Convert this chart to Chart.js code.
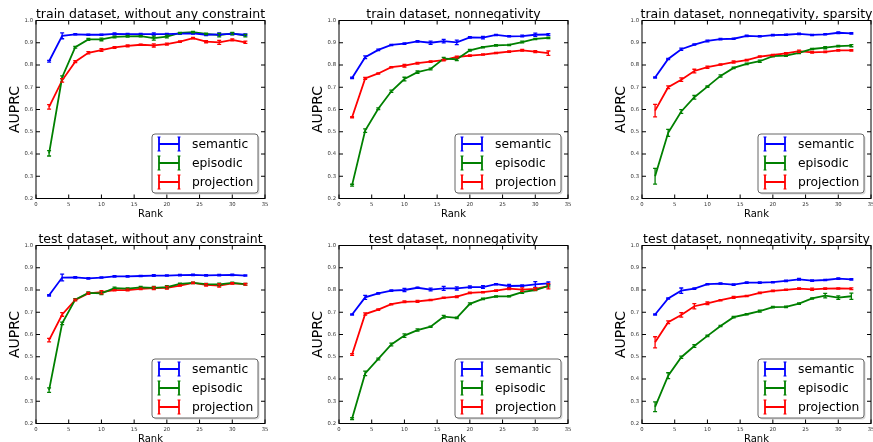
<!DOCTYPE html>
<html><head><meta charset="utf-8">
<script src="https://cdn.jsdelivr.net/npm/chart.js@4"></script>
<style>
html,body{margin:0;padding:0;background:#fff;overflow:hidden;width:873px;height:442px;position:relative}
.p{position:absolute;width:303px;height:225px}
</style></head><body>
<script>
const ranks = [2,4,6,8,10,12,14,16,18,20,22,24,26,28,30,32];
const seriesNames = ['semantic','episodic','projection'];
const seriesColors = ['#0000ff','#008000','#ff0000'];
const xTicks = [0,5,10,15,20,25,30,35];
const yTicks = [0.2,0.3,0.4,0.5,0.6,0.7,0.8,0.9,1.0];
const titles = ['train dataset, without any constraint','train dataset, nonnegativity','train dataset, nonnegativity, sparsity',
                'test dataset, without any constraint','test dataset, nonnegativity','test dataset, nonnegativity, sparsity'];

// train, without any constraint
const trainNoneSemantic   = [0.817,0.931,0.938,0.936,0.936,0.940,0.939,0.939,0.939,0.939,0.941,0.942,0.936,0.938,0.940,0.936];
const trainNoneSemanticErr= [0.004,0.013,0.003,0.003,0.003,0.004,0.003,0.003,0.005,0.003,0.003,0.003,0.004,0.006,0.004,0.004];
const trainNoneEpisodic   = [0.403,0.745,0.880,0.915,0.915,0.926,0.929,0.930,0.921,0.928,0.944,0.948,0.940,0.934,0.942,0.932];
const trainNoneEpisodicErr= [0.012,0.006,0.004,0.004,0.006,0.004,0.004,0.003,0.009,0.006,0.003,0.003,0.003,0.008,0.005,0.006];
const trainNoneProjection = [0.612,0.731,0.815,0.855,0.867,0.879,0.886,0.891,0.888,0.894,0.905,0.921,0.905,0.902,0.913,0.902];
const trainNoneProjectionErr=[0.010,0.008,0.004,0.005,0.006,0.004,0.004,0.003,0.007,0.004,0.003,0.003,0.005,0.009,0.004,0.005];
// train, nonnegativity
const trainNonnegSemantic   = [0.742,0.835,0.868,0.890,0.896,0.906,0.900,0.907,0.902,0.924,0.923,0.935,0.929,0.930,0.936,0.937];
const trainNonnegSemanticErr= [0.003,0.006,0.003,0.003,0.003,0.003,0.007,0.008,0.010,0.003,0.006,0.003,0.003,0.004,0.007,0.004];
const trainNonnegEpisodic   = [0.260,0.505,0.603,0.682,0.737,0.768,0.782,0.829,0.826,0.866,0.880,0.888,0.890,0.903,0.917,0.922];
const trainNonnegEpisodicErr= [0.004,0.008,0.004,0.005,0.008,0.005,0.004,0.005,0.006,0.004,0.003,0.003,0.003,0.004,0.003,0.003];
const trainNonnegProjection = [0.565,0.740,0.762,0.790,0.797,0.808,0.815,0.822,0.836,0.842,0.847,0.854,0.860,0.866,0.860,0.853];
const trainNonnegProjectionErr=[0.003,0.004,0.003,0.003,0.006,0.004,0.003,0.003,0.004,0.003,0.003,0.003,0.003,0.004,0.004,0.010];
// train, nonnegativity, sparsity
const trainSparseSemantic   = [0.744,0.827,0.871,0.892,0.908,0.916,0.918,0.931,0.929,0.934,0.936,0.940,0.935,0.938,0.945,0.942];
const trainSparseSemanticErr= [0.003,0.003,0.005,0.003,0.004,0.003,0.003,0.003,0.003,0.003,0.003,0.003,0.003,0.003,0.004,0.003];
const trainSparseEpisodic   = [0.300,0.495,0.591,0.655,0.703,0.751,0.787,0.805,0.817,0.840,0.842,0.855,0.872,0.878,0.885,0.887];
const trainSparseEpisodicErr= [0.035,0.016,0.008,0.008,0.003,0.005,0.003,0.003,0.005,0.003,0.003,0.004,0.003,0.005,0.003,0.005];
const trainSparseProjection = [0.595,0.700,0.734,0.773,0.790,0.802,0.813,0.822,0.838,0.845,0.852,0.862,0.857,0.859,0.866,0.866];
const trainSparseProjectionErr=[0.028,0.006,0.008,0.008,0.005,0.003,0.005,0.003,0.003,0.003,0.003,0.005,0.004,0.003,0.003,0.003];
// test, without any constraint
const testNoneSemantic   = [0.776,0.856,0.857,0.852,0.856,0.861,0.861,0.863,0.865,0.865,0.867,0.868,0.866,0.867,0.868,0.865];
const testNoneSemanticErr= [0.003,0.015,0.003,0.003,0.003,0.003,0.003,0.003,0.004,0.003,0.003,0.003,0.003,0.003,0.003,0.003];
const testNoneEpisodic   = [0.350,0.650,0.757,0.787,0.785,0.808,0.806,0.812,0.810,0.813,0.828,0.832,0.826,0.825,0.832,0.826];
const testNoneEpisodicErr= [0.010,0.006,0.004,0.004,0.006,0.005,0.004,0.004,0.006,0.007,0.003,0.003,0.004,0.006,0.003,0.004];
const testNoneProjection = [0.575,0.690,0.755,0.785,0.790,0.799,0.800,0.805,0.808,0.810,0.820,0.832,0.823,0.820,0.830,0.826];
const testNoneProjectionErr=[0.008,0.008,0.004,0.004,0.007,0.003,0.004,0.003,0.006,0.006,0.003,0.003,0.005,0.007,0.003,0.004];
// test, nonnegativity
const testNonnegSemantic   = [0.690,0.767,0.785,0.797,0.800,0.810,0.802,0.807,0.807,0.813,0.813,0.826,0.818,0.819,0.825,0.830];
const testNonnegSemanticErr= [0.003,0.009,0.003,0.003,0.007,0.003,0.006,0.009,0.007,0.005,0.006,0.003,0.007,0.004,0.013,0.006];
const testNonnegEpisodic   = [0.222,0.425,0.490,0.555,0.595,0.620,0.635,0.680,0.675,0.738,0.760,0.771,0.772,0.790,0.800,0.818];
const testNonnegEpisodicErr= [0.004,0.010,0.004,0.006,0.008,0.005,0.003,0.006,0.003,0.004,0.003,0.003,0.003,0.005,0.003,0.004];
const testNonnegProjection = [0.510,0.692,0.712,0.736,0.747,0.749,0.755,0.765,0.770,0.787,0.790,0.797,0.806,0.802,0.805,0.817];
const testNonnegProjectionErr=[0.004,0.005,0.003,0.003,0.004,0.004,0.003,0.003,0.004,0.003,0.003,0.003,0.004,0.008,0.006,0.012];
// test, nonnegativity, sparsity
const testSparseSemantic   = [0.690,0.762,0.797,0.806,0.826,0.829,0.824,0.833,0.833,0.835,0.841,0.848,0.842,0.845,0.851,0.848];
const testSparseSemanticErr= [0.003,0.003,0.012,0.003,0.003,0.003,0.003,0.003,0.003,0.003,0.003,0.004,0.003,0.003,0.003,0.003];
const testSparseEpisodic   = [0.275,0.415,0.498,0.548,0.594,0.638,0.678,0.691,0.705,0.723,0.724,0.739,0.762,0.775,0.766,0.772];
const testSparseEpisodicErr= [0.022,0.013,0.005,0.006,0.003,0.003,0.003,0.003,0.004,0.003,0.003,0.003,0.003,0.010,0.008,0.014];
const testSparseProjection = [0.565,0.655,0.688,0.727,0.740,0.754,0.767,0.773,0.787,0.796,0.801,0.806,0.803,0.806,0.807,0.806];
const testSparseProjectionErr=[0.025,0.006,0.010,0.012,0.006,0.003,0.004,0.003,0.003,0.003,0.003,0.003,0.005,0.003,0.003,0.004];

const panels = [
  {vals:[trainNoneSemantic,trainNoneEpisodic,trainNoneProjection], errs:[trainNoneSemanticErr,trainNoneEpisodicErr,trainNoneProjectionErr]},
  {vals:[trainNonnegSemantic,trainNonnegEpisodic,trainNonnegProjection], errs:[trainNonnegSemanticErr,trainNonnegEpisodicErr,trainNonnegProjectionErr]},
  {vals:[trainSparseSemantic,trainSparseEpisodic,trainSparseProjection], errs:[trainSparseSemanticErr,trainSparseEpisodicErr,trainSparseProjectionErr]},
  {vals:[testNoneSemantic,testNoneEpisodic,testNoneProjection], errs:[testNoneSemanticErr,testNoneEpisodicErr,testNoneProjectionErr]},
  {vals:[testNonnegSemantic,testNonnegEpisodic,testNonnegProjection], errs:[testNonnegSemanticErr,testNonnegEpisodicErr,testNonnegProjectionErr]},
  {vals:[testSparseSemantic,testSparseEpisodic,testSparseProjection], errs:[testSparseSemanticErr,testSparseEpisodicErr,testSparseProjectionErr]}
];

const FONT = 'DejaVu Sans';

function makePlugin(panel, title){
  return {
    id:'decor',
    afterDatasetsDraw(chart){
      const ctx = chart.ctx, ca = chart.chartArea;
      const xs = chart.scales.x, ys = chart.scales.y;
      ctx.save();
      // error bars
      panel.vals.forEach((vals,i)=>{
        ctx.strokeStyle = seriesColors[i];
        ctx.lineWidth = 1.3;
        vals.forEach((v,k)=>{
          const e = panel.errs[i][k];
          const px = xs.getPixelForValue(ranks[k]);
          const y1 = ys.getPixelForValue(v - e), y2 = ys.getPixelForValue(v + e);
          ctx.beginPath();
          ctx.moveTo(px, y1); ctx.lineTo(px, y2);
          ctx.moveTo(px-2, y1); ctx.lineTo(px+2, y1);
          ctx.moveTo(px-2, y2); ctx.lineTo(px+2, y2);
          ctx.stroke();
        });
      });
      // frame
      ctx.strokeStyle = '#000'; ctx.lineWidth = 1;
      ctx.strokeRect(ca.left, ca.top, ca.right-ca.left, ca.bottom-ca.top);
      // inward ticks on all sides
      ctx.beginPath();
      xTicks.forEach(t=>{
        const px = xs.getPixelForValue(t);
        ctx.moveTo(px, ca.bottom); ctx.lineTo(px, ca.bottom-4);
        ctx.moveTo(px, ca.top); ctx.lineTo(px, ca.top+4);
      });
      yTicks.forEach(t=>{
        const py = ys.getPixelForValue(t);
        ctx.moveTo(ca.left, py); ctx.lineTo(ca.left+4, py);
        ctx.moveTo(ca.right, py); ctx.lineTo(ca.right-4, py);
      });
      ctx.stroke();
      // legend
      const lw = 106, lh = 59;
      const lx = ca.right - 7 - lw, ly = ca.bottom - 5.5 - lh;
      ctx.fillStyle = 'rgba(0,0,0,0.15)';
      ctx.beginPath(); ctx.roundRect(lx+1.5, ly+1.5, lw, lh, 3); ctx.fill();
      ctx.fillStyle = '#fff'; ctx.strokeStyle = '#666'; ctx.lineWidth = 1;
      ctx.beginPath(); ctx.roundRect(lx, ly, lw, lh, 3); ctx.fill(); ctx.stroke();
      seriesNames.forEach((n,i)=>{
        const cy = ly + 10 + i*19;
        const x0 = lx + 7, x1 = lx + 27;
        ctx.strokeStyle = seriesColors[i]; ctx.lineWidth = 1.8;
        ctx.beginPath();
        ctx.moveTo(x0, cy); ctx.lineTo(x1, cy);
        ctx.moveTo(x0, cy-7); ctx.lineTo(x0, cy+7);
        ctx.moveTo(x1, cy-7); ctx.lineTo(x1, cy+7);
        ctx.stroke();
        ctx.lineWidth = 1.2;
        ctx.beginPath();
        ctx.moveTo(x0-1.5, cy-7); ctx.lineTo(x0+1.5, cy-7);
        ctx.moveTo(x0-1.5, cy+7); ctx.lineTo(x0+1.5, cy+7);
        ctx.moveTo(x1-1.5, cy-7); ctx.lineTo(x1+1.5, cy-7);
        ctx.moveTo(x1-1.5, cy+7); ctx.lineTo(x1+1.5, cy+7);
        ctx.stroke();
        ctx.fillStyle = '#000';
        ctx.font = '12.3px "' + FONT + '"';
        ctx.textAlign = 'left'; ctx.textBaseline = 'middle';
        ctx.fillText(n, lx + 40, cy + 0.5);
      });
      // title
      const cx = (ca.left + ca.right)/2;
      ctx.fillStyle = '#000';
      ctx.font = '12.5px "' + FONT + '"';
      ctx.textAlign = 'center'; ctx.textBaseline = 'alphabetic';
      ctx.fillText(title, cx, ca.top - 3);
      // x label
      ctx.font = '10px "' + FONT + '"';
      ctx.fillText('Rank', cx, ca.bottom + 18);
      // y label
      ctx.save();
      ctx.translate(ca.left - 21, (ca.top + ca.bottom)/2);
      ctx.rotate(-Math.PI/2);
      ctx.font = '14px "' + FONT + '"';
      ctx.textAlign = 'center'; ctx.textBaseline = 'middle';
      ctx.fillText('AUPRC', 0, 0);
      ctx.restore();
      ctx.restore();
    }
  };
}

panels.forEach((panel, idx)=>{
  const r = Math.floor(idx/3), c = idx % 3;
  const div = document.createElement('div');
  div.className = 'p';
  div.style.left = (c*303) + 'px';
  div.style.top = (r*225) + 'px';
  const cv = document.createElement('canvas');
  cv.width = 303; cv.height = 225;
  cv.style.width = '303px'; cv.style.height = '225px';
  div.appendChild(cv);
  document.body.appendChild(div);
  const tickFont = {family: FONT, size: 5.3};
  new Chart(cv, {
    type:'line',
    data:{
      datasets: seriesNames.map((n,i)=>({
        label:n,
        data: ranks.map((x,k)=>({x:x, y:panel.vals[i][k]})),
        borderColor: seriesColors[i], backgroundColor: seriesColors[i],
        borderWidth: 1.8, pointRadius: 0, tension: 0, fill: false
      }))
    },
    options:{
      responsive:false, animation:false,
      layout:{padding:{top:20.5, right:38, bottom:0, left:0}},
      plugins:{legend:{display:false}, tooltip:{enabled:false}, title:{display:false}},
      scales:{
        x:{type:'linear', min:0, max:35,
           ticks:{stepSize:5, padding:3, font:tickFont, color:'#333', maxRotation:0, autoSkip:false},
           grid:{display:false, drawTicks:false}, border:{display:false},
           afterFit(s){ s.height = 26.5; }},
        y:{type:'linear', min:0.2, max:1.0,
           ticks:{stepSize:0.1, padding:3, font:tickFont, color:'#333', callback:v=>Number(v).toFixed(1)},
           grid:{display:false, drawTicks:false}, border:{display:false},
           afterFit(s){ s.width = 36; }}
      }
    },
    plugins:[makePlugin(panel, titles[idx])]
  });
});
</script>
</body></html>
